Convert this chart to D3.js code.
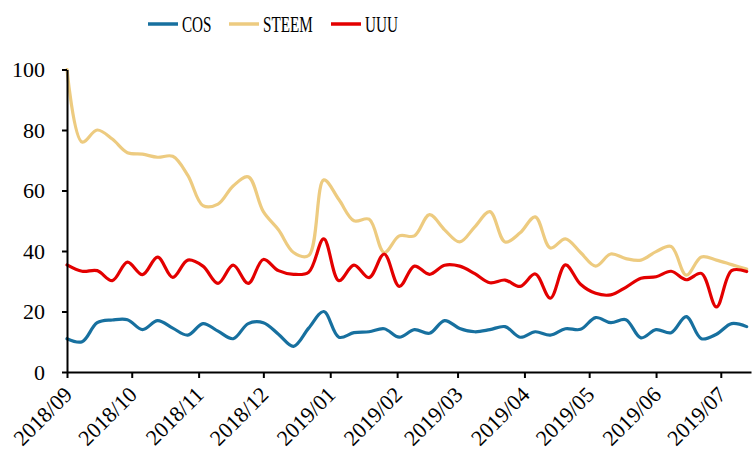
<!DOCTYPE html>
<html><head><meta charset="utf-8">
<script src="https://cdn.jsdelivr.net/npm/d3@7"></script>
<style>html,body{margin:0;padding:0;background:#fff;}svg{display:block;}</style>
</head><body><svg id="chart" width="753" height="454"></svg>
<script>
const dates = ["2018-09-01","2018-09-08","2018-09-15","2018-09-22","2018-09-29","2018-10-06","2018-10-13","2018-10-20","2018-10-27","2018-11-03","2018-11-10","2018-11-17","2018-11-24","2018-12-01","2018-12-08","2018-12-15","2018-12-22","2018-12-29","2019-01-05","2019-01-12","2019-01-19","2019-01-26","2019-02-02","2019-02-09","2019-02-16","2019-02-23","2019-03-02","2019-03-09","2019-03-16","2019-03-23","2019-03-30","2019-04-06","2019-04-13","2019-04-20","2019-04-27","2019-05-04","2019-05-11","2019-05-18","2019-05-25","2019-06-01","2019-06-08","2019-06-15","2019-06-22","2019-06-29","2019-07-06","2019-07-13"];
const cos = [11,10,16.3,17.2,17.3,14,17,14.5,12.2,16,13.5,11,16,16.3,12.5,8.5,14.5,20,11.5,13,13.3,14.3,11.5,14,12.8,17,14.4,13.3,14,15,11.5,13.3,12.2,14.3,14.1,18,16.3,17.3,11.3,14,13,18.3,11,12.5,16,15];
const steem = [100,76,80,77,72.5,72,71,71.3,65,55,55.5,61.5,64.5,53,47,39.5,38.5,63.5,57,50,50.5,39.5,45,45,52,47,43,48,53,43,46,51.3,41,44,39.5,35,39,37.5,37,39.8,41.5,32,38,37,35.5,34];
const uuu = [35.4,33.3,33.5,30.2,36.3,32.2,38,31.3,37,35,29.3,35.3,29.3,37.2,33.5,32.3,33,44,30.2,35.3,31.2,39,28.3,35,32.3,35.3,35,32.5,29.5,30.4,28.3,32.4,24.4,35.4,29,26,25.5,28,31,31.5,33.3,30.5,32.6,21.5,33.5,33.2];
const seriesNames = ["COS","STEEM","UUU"];
const seriesColors = ["#17709f","#edcb80","#e30000"];
const yTicks = [0,20,40,60,80,100];
const xTickDates = ["2018-09-01","2018-10-01","2018-11-01","2018-12-01","2019-01-01","2019-02-01","2019-03-01","2019-04-01","2019-05-01","2019-06-01","2019-07-01"];
const xDomain = ["2018-09-01","2019-07-15"];

const parse = d3.timeParse("%Y-%m-%d");
const fmt = d3.timeFormat("%Y/%m");
const svg = d3.select("#chart");
const x = d3.scaleTime().domain(xDomain.map(parse)).range([67, 751]);
const y = d3.scaleLinear().domain([0,100]).range([372, 69.5]);
const font = "'Liberation Serif','Times New Roman',serif";

// lines
const allSeries = [cos, steem, uuu];
const line = d3.line().x((d,i)=>x(parse(dates[i]))).y(d=>y(d)).curve(d3.curveCatmullRom.alpha(0.5));
[1,2,0].forEach(k=>{
  svg.append("path").attr("d", line(allSeries[k])).attr("fill","none")
    .attr("stroke", seriesColors[k]).attr("stroke-width",3.2).attr("stroke-linejoin","round").attr("stroke-linecap","round");
});

// y axis
const yAxis = svg.append("g").attr("transform","translate(67,0)")
  .call(d3.axisLeft(y).tickValues(yTicks).tickSize(5).tickPadding(17).tickSizeOuter(0));
yAxis.select(".domain").attr("stroke","#000").attr("stroke-width",2);
yAxis.selectAll(".tick line").attr("stroke","#000").attr("stroke-width",2);
yAxis.selectAll("text").attr("font-family",font).attr("font-size",22).attr("fill","#000").attr("dy","0.33em");

// x axis
const xAxis = svg.append("g").attr("transform","translate(0,372)")
  .call(d3.axisBottom(x).tickValues(xTickDates.map(parse)).tickFormat(fmt).tickSize(6).tickSizeOuter(0));
xAxis.select(".domain").attr("stroke","#000").attr("stroke-width",2);
xAxis.selectAll(".tick line").attr("stroke","#000").attr("stroke-width",2);
xAxis.selectAll("text").attr("font-family",font).attr("font-size",22).attr("fill","#000")
  .attr("text-anchor","end").attr("dy",0).attr("y",0)
  .attr("transform","translate(6,24) rotate(-45)");

// legend
const legendX = [148, 229, 331];
const lg = svg.append("g");
seriesNames.forEach((n,k)=>{
  lg.append("line").attr("x1",legendX[k]).attr("x2",legendX[k]+30).attr("y1",24).attr("y2",24)
    .attr("stroke",seriesColors[k]).attr("stroke-width",3.5);
  lg.append("text").attr("transform",`translate(${legendX[k]+34},32) scale(0.66,1)`)
    .attr("font-family",font).attr("font-size",23).attr("fill","#000").text(n);
});
</script></body></html>
